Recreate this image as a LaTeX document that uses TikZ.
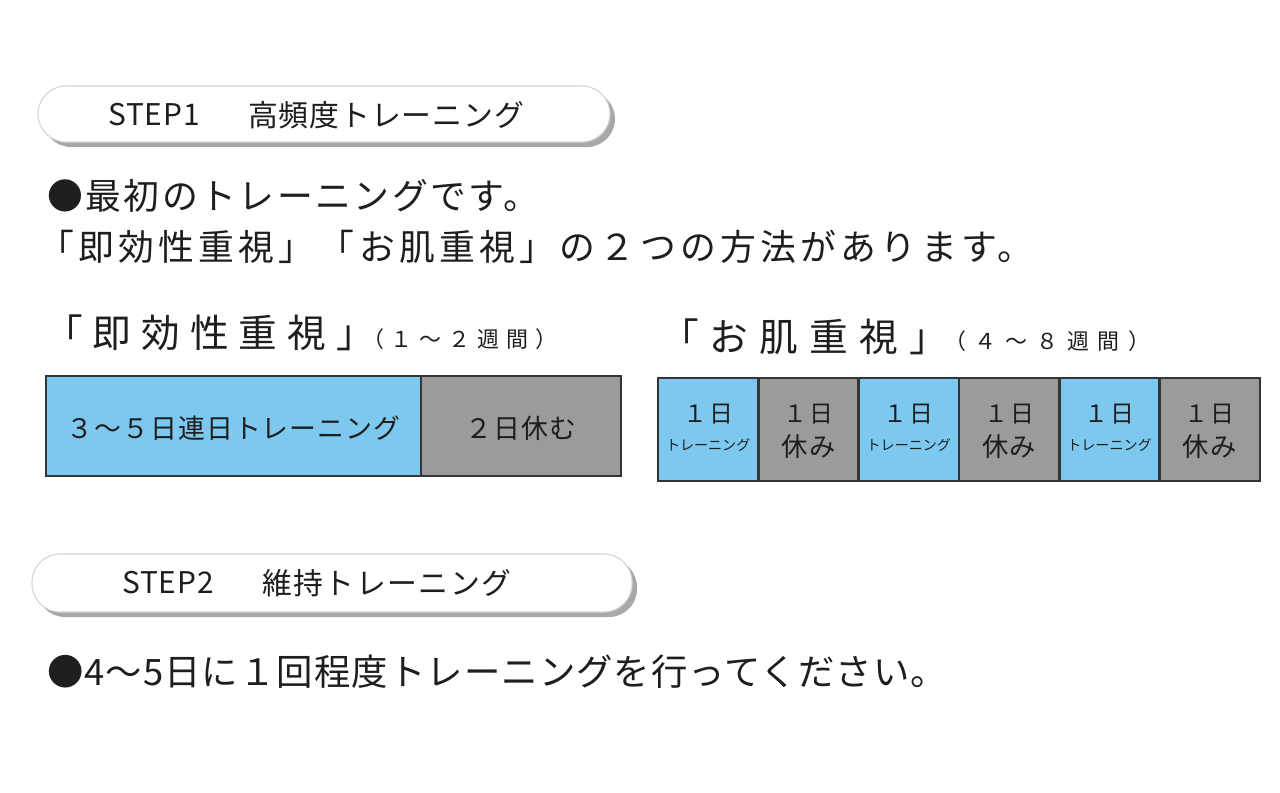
\documentclass[tikz,border=0pt]{standalone}
\usepackage{fontspec}
\newfontfamily\jp{Noto Sans CJK JP}
\usetikzlibrary{calc}
\definecolor{barblue}{HTML}{7DC8EE}
\definecolor{bargray}{HTML}{9B9B9B}
\definecolor{barline}{HTML}{353535}
\definecolor{ink}{HTML}{1E1E1E}
\definecolor{pillshadow}{HTML}{A8A8A8}
\definecolor{pilledge}{HTML}{D4D4D4}
\newcommand\jfs[2]{\jp\fontsize{#1}{#1}\selectfont\addfontfeatures{LetterSpace=#2}}
\begin{document}
\begin{tikzpicture}[x=0.02cm,y=-0.02cm,
  txt/.style={inner sep=0pt, outer sep=0pt, text=ink},
  pillshade/.style={fill=pillshadow, rounded corners=0.56cm},
  pillbody/.style={fill=white, draw=pilledge, line width=0.6pt, rounded corners=0.56cm},
  cell/.style={draw=barline, line width=1.6pt, inner sep=0pt, rectangle},
  title/.style={txt, anchor=west, font=\jfs{17pt}{3}},
  big/.style={txt, anchor=west},
  bartext/.style={txt, font=\jfs{15.3pt}{4}}]
\useasboundingbox[fill=white] (0,0) rectangle (1280,792);

% STEP1 pill
\fill[pillshade] (43,91) rectangle (615,147);
\draw[pillbody] (38,86) rectangle (610,142);
\node[title] (s1a) at (108,115) {STEP1};
\node[title] (s1b) at (248,115) {高頻度トレーニング};

% intro lines
\node[big, font=\jfs{20.4pt}{7}] (l1) at (47,196) {●最初のトレーニングです。};
\node[big, font=\jfs{20.4pt}{12}] (l2) at (38,247) {「即効性重視」「お肌重視」の２つの方法があります。};

% labels
\node[big, font=\jfs{22pt}{26}] (ll) at (44,333) {「即効性重視」};
\node[big, font=\jfs{12.5pt}{32}] (llp) at (362,339) {（１～２週間）};
\node[big, font=\jfs{22pt}{29}] (rl) at (660,337) {「お肌重視」};
\node[big, font=\jfs{12.5pt}{40}] (rlp) at (944,341) {（４～８週間）};

% left bar
\node[cell, fill=barblue, minimum width=7.5cm, minimum height=2cm] (lb1) at (233.5,426) {};
\node[cell, fill=bargray, minimum width=4cm, minimum height=2cm] (lb2) at (521,426) {};
\node[bartext] (lb1t) at ([yshift=-0.04cm]lb1.center) {３～５日連日トレーニング};
\node[bartext] (lb2t) at ([yshift=-0.04cm]lb2.center) {２日休む};

% right bar
\foreach \i in {1,3,5}{
  \node[cell, fill=barblue, minimum width=2.0067cm, minimum height=2.06cm] (r\i) at ({658+(\i-0.5)*100.33},429.5) {};
  \node[txt, font=\jfs{13.6pt}{8}] (r\i-a) at ([yshift=0.31cm]r\i.center) {１日};
  \node[txt, font=\jfs{8pt}{0}] (r\i-b) at ([yshift=-0.31cm]r\i.center) {トレーニング};
}
\foreach \i in {2,4,6}{
  \node[cell, fill=bargray, minimum width=2.0067cm, minimum height=2.06cm] (r\i) at ({658+(\i-0.5)*100.33},429.5) {};
  \node[txt, font=\jfs{13.6pt}{8}] (r\i-a) at ([yshift=0.31cm]r\i.center) {１日};
  \node[txt, font=\jfs{15pt}{4}] (r\i-b) at ([yshift=-0.34cm]r\i.center) {休み};
}

% STEP2 pill
\fill[pillshade] (37,559) rectangle (637,617);
\draw[pillbody] (32,554) rectangle (632,612);
\node[title] (s2a) at (122,583) {STEP2};
\node[title, font=\jfs{17pt}{5}] (s2b) at (262,583) {維持トレーニング};

% STEP2 line
\node[big, font=\jfs{20.7pt}{3}] (l3) at (47,672) {●4～5日に１回程度トレーニングを行ってください。};
\end{tikzpicture}
\end{document}
